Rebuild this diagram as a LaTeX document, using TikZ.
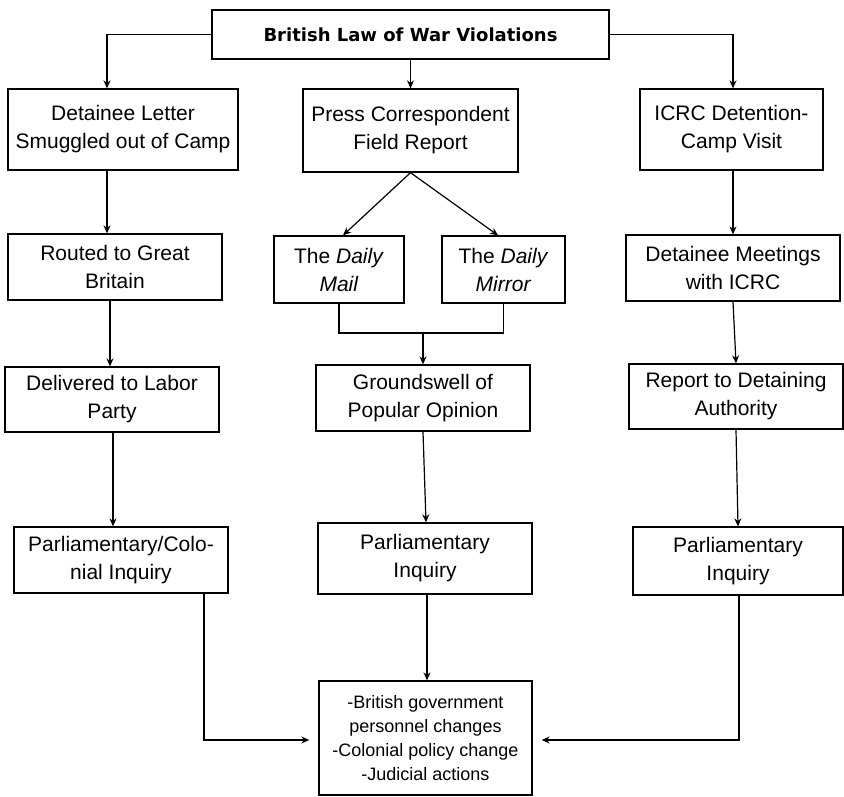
\documentclass[tikz,border=0pt]{standalone}
\usepackage{fontspec}
\setmainfont{Liberation Sans}
\newfontfamily\ttlfont{DejaVu Sans}
\usetikzlibrary{arrows.meta}
\begin{document}
\begin{tikzpicture}[x=1pt,y=-1pt,
  box/.style={draw=black, line width=1.3pt, inner sep=0pt, align=center,
    font=\fontsize{21}{28}\selectfont},
  ttl/.style={draw=black, line width=1.3pt, inner sep=0pt, align=center,
    font=\ttlfont\bfseries\fontsize{18}{22}\selectfont},
  res/.style={box, font=\fontsize{18}{24}\selectfont},
  arr/.style={line width=1.2pt, -{Stealth[length=8pt,width=7pt]}},
  ln/.style={line width=1.2pt}]
\useasboundingbox[fill=white] (0,0) rectangle (844,796);
% nodes
\node[ttl, minimum width=397pt, minimum height=49pt] (title) at (410.5,34.5) {British Law of War Violations};
\node[box, minimum width=230pt, minimum height=81pt] (det) at (123,129.5) {Detainee Letter\\Smuggled out of Camp};
\node[box, minimum width=214pt, minimum height=66pt] (routed) at (115,267) {Routed to Great\\Britain};
\node[box, minimum width=214pt, minimum height=65pt] (deliv) at (112,399.5) {Delivered to Labor\\Party};
\node[box, minimum width=214pt, minimum height=66pt] (lparl) at (121,560) {Parliamentary/Colo-\\nial Inquiry};
\node[box, minimum width=215pt, minimum height=83pt] (press) at (410.5,130.5) {Press Correspondent\\Field Report};
\node[box, minimum width=130pt, minimum height=67pt] (mail) at (339,269.5) {The \textit{Daily}\\\textit{Mail}};
\node[box, minimum width=123pt, minimum height=67pt] (mirror) at (503.5,269.5) {The \textit{Daily}\\\textit{Mirror}};
\node[box, minimum width=214pt, minimum height=66pt] (ground) at (423,398) {Groundswell of\\Popular Opinion};
\node[box, minimum width=214pt, minimum height=71pt] (mparl) at (425,558.5) {Parliamentary\\Inquiry};
\node[res, minimum width=213pt, minimum height=114pt] (res) at (425.5,738) {-British government\\personnel changes\\-Colonial policy change\\-Judicial actions};
\node[box, minimum width=183pt, minimum height=81pt] (icrc) at (731.5,129.5) {ICRC Detention-\\Camp Visit};
\node[box, minimum width=214pt, minimum height=66pt] (meet) at (733,268) {Detainee Meetings\\with ICRC};
\node[box, minimum width=214pt, minimum height=65pt] (report) at (736,396.5) {Report to Detaining\\Authority};
\node[box, minimum width=210pt, minimum height=68pt] (rparl) at (738,561) {Parliamentary\\Inquiry};
% helper coordinates
\coordinate (xL1) at (107,0);
\coordinate (xL2) at (110,0);
\coordinate (xL3) at (113,0);
\coordinate (xLa) at (204,0);
\coordinate (xM1) at (343,0);
\coordinate (xM2) at (498,0);
\coordinate (jn) at (423,333);
\coordinate (xG2) at (426,0);
\coordinate (xP) at (427,0);
\coordinate (xR1) at (733,0);
\coordinate (xR2) at (736,0);
\coordinate (xR3) at (738,0);
\coordinate (xRa) at (739,0);
\coordinate (ybot) at (0,740);
% connectors
\draw[arr] (title.west) -| (det.north -| xL1);
\draw[arr] (title.east) -| (icrc.north -| xR1);
\draw[arr] (title.south) -- (press.north);
\draw[arr] (det.south -| xL1) -- (routed.north -| xL1);
\draw[arr] (routed.south -| xL2) -- (deliv.north -| xL2);
\draw[arr] (deliv.south -| xL3) -- (lparl.north -| xL3);
\draw[arr] (press.south) -- (mail.north -| xM1);
\draw[arr] (press.south) -- (mirror.north -| xM2);
\draw[ln] (mail.south) -- (mail.south |- jn) -- (mirror.south |- jn) -- (mirror.south);
\draw[arr] (jn) -- (ground.north -| jn);
\draw[arr] (ground.south -| jn) -- (mparl.north -| xG2);
\draw[arr] (mparl.south -| xP) -- (res.north -| xP);
\draw[arr] (icrc.south -| xR1) -- (meet.north -| xR1);
\draw[arr] (meet.south -| xR1) -- (report.north -| xR2);
\draw[arr] (report.south -| xR2) -- (rparl.north -| xR3);
\draw[arr, shorten >=9pt] (lparl.south -| xLa) |- (res.west |- ybot);
\draw[arr, shorten >=9pt] (rparl.south -| xRa) |- (res.east |- ybot);
\end{tikzpicture}
\end{document}
